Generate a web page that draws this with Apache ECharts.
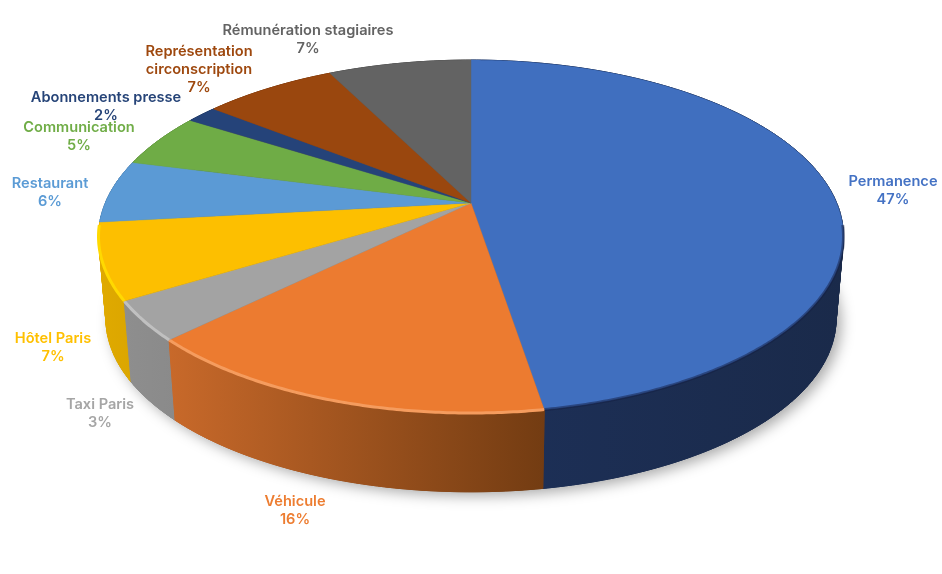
<!DOCTYPE html>
<html><head><meta charset="utf-8">
<style>html,body{margin:0;padding:0;background:#fff}#c{width:942px;height:574px}</style>
<script src="https://cdn.jsdelivr.net/npm/echarts@6/dist/echarts.min.js"></script>
</head><body><div id="c"></div>
<script>
const categories = ['Permanence','Véhicule','Taxi Paris','Hôtel Paris','Restaurant','Communication','Abonnements presse','Représentation\ncirconscription','Rémunération stagiaires'];
const shares = [47.4,15.3,3.6,6.95,5.75,4.97,1.63,6.95,7.45];
const percentLabels = ['47%','16%','3%','7%','6%','5%','2%','7%','7%'];
const topColors = ['#406fbf','#ec7b30','#a3a3a3','#fdbf00','#5b9ad5','#6fac46','#254379','#9a470e','#636363'];
const textColors = ['#4472c4','#ed7d31','#a5a5a5','#ffc000','#5b9bd5','#70ad47','#264478','#9e480e','#636363'];
const wallLeft = ['#1d3058','#c8692a','#8e8e8e','#e0aa00','#4a7fb0','#5a8c3a','#1e3660','#7e390b','#505050'];
const wallRight = ['#1a2a4a','#733c12','#8a8a8a','#dba600','#4a7fb0','#5a8c3a','#1e3660','#7e390b','#505050'];
const rimColors = ['rgba(20,30,65,0.5)','#f59c5e','#c0c0c0','#ffd900','#7db6e8','#70ad47','#254379','#9a470e','#636363'];
const labelCenters = [[893,191],[295,511],[100,414],[53,348],[50,193],[79,137],[106,107],[199,70],[308,40]];

const PERSP = 0.19;
const TOP = {x:471,y:203,a:365.7,b:170.1};
const BASE = {x:471,y:286,a:358.4,b:166.7};
const total = shares.reduce((s,v)=>s+v,0);
function pt(f,frac){
  const t = frac*2*Math.PI, u = Math.sin(t), v = -Math.cos(t), w = 1-PERSP*v;
  return [f.x+f.a*u/w, f.y+f.b*v/w];
}
function arc(f,from,to,perTurn){
  const n = Math.max(2,Math.ceil((to-from)*perTurn)), out=[];
  for(let i=0;i<=n;i++) out.push(pt(f,from+(to-from)*i/n));
  return out;
}
function startOf(i){ let s=0; for(let k=0;k<i;k++) s+=shares[k]; return s/total; }

function renderWall(params,api){
  const i = params.dataIndex, from = startOf(i), to = from+api.value(0)/total;
  const mid = (from+to)/2, depth = Math.round(-Math.cos(mid*2*Math.PI)*100)+200;
  const children = [];
  if(i===0){
    children.push({type:'polygon',z2:0,shape:{points:arc(BASE,0,1,720)},
      style:{fill:'#555',shadowBlur:14,shadowColor:'rgba(0,0,0,0.34)',shadowOffsetX:5,shadowOffsetY:4}});
  }
  const upper = arc(TOP,from,to,360), lower = arc(BASE,from,to,360);
  const xs = upper.concat(lower).map(p=>p[0]);
  const x0 = Math.min.apply(null,xs), x1 = Math.max.apply(null,xs);
  const fill = new echarts.graphic.LinearGradient(x0,0,x1,0,
    [{offset:0,color:wallLeft[i]},{offset:1,color:wallRight[i]}],true);
  children.push({type:'polygon',z2:depth,
    shape:{points:upper.concat(lower.slice().reverse())},
    style:{fill:fill,stroke:fill,lineWidth:0.7}});
  for(let k=0;k<upper.length-1;k++){
    children.push({type:'polygon',z2:depth+1,
      shape:{points:[upper[k],upper[k+1],lower[k+1],lower[k]]},
      style:{fill:fill,stroke:fill,lineWidth:1}});
  }
  return {type:'group',children};
}
function renderTop(params,api){
  const i = params.dataIndex, from = startOf(i), to = from+api.value(0)/total;
  const edge = arc(TOP,from,to,720);
  const children = [{type:'polygon',shape:{points:[[TOP.x,TOP.y]].concat(edge)},
    style:{fill:topColors[i],stroke:topColors[i],lineWidth:0.4}}];
  const front = edge.filter(p=>p[1]>=224);
  if(front.length>1) children.push({type:'polyline',shape:{points:front},
    style:{stroke:rimColors[i],lineWidth:3,fill:null}});
  const c = labelCenters[i];
  children.push({type:'text',style:{
    text:categories[i]+'\n'+percentLabels[i],x:c[0],y:c[1],align:'center',verticalAlign:'middle',
    fill:textColors[i],font:'600 14.6px Inter, sans-serif',lineHeight:18}});
  return {type:'group',children};
}
const chart = echarts.init(document.getElementById('c'),null,{renderer:'canvas'});
const rows = shares.map(v=>[v]);
chart.setOption({
  animation:false,
  backgroundColor:'#fff',
  series:[
    {type:'custom',coordinateSystem:'none',z:1,silent:true,data:rows,renderItem:renderWall},
    {type:'custom',coordinateSystem:'none',z:2,silent:true,data:rows,renderItem:renderTop}
  ]
});
</script></body></html>
